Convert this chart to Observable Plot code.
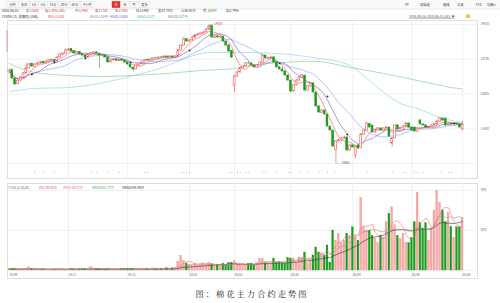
<!DOCTYPE html>
<html><head><meta charset="utf-8">
<script src="https://cdn.jsdelivr.net/npm/d3@7"></script>
<script src="https://cdn.jsdelivr.net/npm/@observablehq/plot@0.6"></script>
<style>
html,body{margin:0;padding:0;background:#fff;width:500px;height:303px;overflow:hidden;}
#wrap{position:relative;width:500px;height:303px;font-family:"Noto Sans CJK SC","Noto Sans",sans-serif;}
#price{position:absolute;left:0;top:20px;}
#vol{position:absolute;left:0;top:180px;}
#over{position:absolute;left:0;top:0;pointer-events:none;}
</style></head><body><div id="wrap"><div id="price"></div><div id="vol"></div></div>
<script>
// ---- data (daily candles, 2019/09/26 - 2020/06/01, 162 sessions) ----
const opens = [13300,13380,13100,12930,13040,13130,13270,13430,13580,13490,
13560,13590,13640,13600,13650,13680,13700,13660,13790,13880,
13910,14010,14060,13990,13910,13960,13890,13850,13790,13880,
13910,13950,13910,13840,13860,13790,13630,13690,13730,13690,
13720,13690,13630,13560,13460,13400,13530,13590,13620,13700,
13690,13720,13760,13750,13790,13780,13820,13790,13820,13780,
13820,14010,14170,14380,14300,14340,14430,14500,14530,14560,
14600,14690,14800,14430,14470,14430,14460,14300,14180,14000,
12880,13170,13300,13430,13500,13600,13590,13530,13460,13530,
13620,13850,13740,13760,13790,13630,13470,13400,13340,13200,13040,
12690,12880,13040,13140,13200,12720,12850,12950,12650,12200,
12000,12070,11940,11550,11420,10800,11070,11100,11160,11200,
10780,10940,10600,10940,10850,11290,11420,11640,11585,11360,
11420,11490,11420,11490,11520,11000,11170,11590,11460,
11500,11550,11650,11520,11520,11390,11750,11620,11590,11520,11530,11590,
11620,11710,11810,11810,11590,11650,11620,11650,11620,11460];
const highs = [13420,13400,13120,13080,13170,13300,13600,13600,13610,13590,
13630,13660,13670,13690,13720,13740,13730,13810,13910,13950,
14060,14090,14080,14010,13980,13980,13910,13870,13900,13940,
13980,13970,13930,13890,13880,13800,13720,13750,13750,13740,
13740,13700,13640,13570,13480,13550,13610,13650,13710,13720,
13750,13780,13790,13810,13820,13840,13840,13840,13840,13850,
14040,14200,14460,14400,14370,14460,14530,14560,14590,14630,
14720,14855,14830,14500,14510,14500,14480,14320,14200,14010,
13220,13340,13460,13530,13620,13640,13610,13550,13560,13650,
13900,13870,13790,13820,13800,13640,13490,13480,13350,13220,13050,
12920,13080,13170,13240,13210,12880,12980,12960,12660,12230,
12110,12090,11950,11570,11430,11100,11150,11200,11240,11210,
10970,10970,10940,10960,11320,11460,11690,11660,11600,11450,
11520,11510,11510,11550,11540,11190,11610,11610,11530,
11580,11680,11670,11540,11530,11520,11770,11640,11610,11560,11610,11650,
11740,11850,11830,11830,11680,11670,11680,11670,11640,11720];
const lows = [13260,13080,12880,12900,13010,13110,13250,13410,13470,13470,
13530,13570,13570,13580,13620,13660,13630,13640,13770,13860,
13890,13990,13960,13890,13890,13860,13830,13760,13770,13860,
13890,13890,13430,13820,13770,13600,13610,13670,13670,13670,
13670,13600,13540,13440,13330,13380,13510,13570,13600,13670,
13670,13700,13730,13730,13760,13760,13770,13770,13770,13760,
13800,13990,14150,14280,14270,14320,14410,14480,14510,14540,
14580,14670,14420,14400,14410,14410,14280,14150,13960,13760,
12655,13140,13280,13410,13480,13560,13500,13440,13440,13510,
13600,13730,13720,13740,13600,13440,13380,13310,13180,13020,12640,
12660,12860,13020,13100,12655,12700,12820,12630,12180,11980,
11970,11920,11520,11390,10870,10365,11040,11070,11130,10740,
10750,10850,10500,10820,10830,11270,11400,11500,11340,11340,
11400,11400,11400,11470,11200,10875,11150,11430,11440,
11440,11530,11500,11400,11370,11370,11600,11560,11500,11490,11510,11570,
11600,11690,11720,11560,11570,11590,11600,11590,11500,11400];
const closes = [13365,13105,12915,13040,13140,13270,13430,13560,13495,13560,
13595,13625,13595,13655,13690,13705,13655,13785,13885,13915,
14015,14045,13980,13915,13950,13885,13850,13785,13885,13915,
13950,13915,13850,13860,13785,13625,13690,13720,13690,13720,
13690,13625,13560,13465,13400,13530,13595,13625,13690,13690,
13720,13755,13755,13785,13785,13820,13785,13820,13785,13820,
14015,14175,14370,14305,14335,14435,14500,14530,14565,14595,
14695,14790,14435,14465,14435,14465,14305,14175,13980,13785,
13170,13300,13430,13495,13595,13595,13530,13465,13530,13625,
13850,13755,13755,13785,13625,13465,13400,13335,13205,13040,12685,
12880,13040,13140,13205,12720,12850,12945,12655,12200,12005,
12070,11940,11555,11425,10905,11070,11100,11165,11195,10775,
10940,10875,10905,10840,11295,11425,11650,11520,11360,11425,
11490,11425,11490,11520,11230,11165,11585,11455,11500,
11555,11650,11520,11425,11390,11490,11620,11585,11520,11530,11585,11620,
11715,11810,11745,11585,11650,11620,11650,11620,11520,11605];
// volume, unit: 万手
const volumes = [1.2,1.5,1.8,1.0,0.9,1.1,1.6,3.0,1.4,1.1,
1.0,0.9,1.1,1.0,0.8,0.9,1.0,1.2,1.3,1.1,
1.0,0.9,1.2,1.4,1.1,1.3,1.5,1.2,1.8,3.2,
2.0,1.2,1.5,1.1,1.0,1.3,1.2,1.0,0.9,1.1,
1.6,1.2,1.4,1.7,1.5,1.2,1.0,1.1,1.2,1.4,
1.3,2.0,1.5,1.4,1.6,1.8,2.2,1.9,2.1,2.5,
8.5,14.0,9.0,6.5,5.0,4.5,6.0,4.0,5.5,6.5,
5.0,7.5,6.0,4.5,5.5,4.0,6.5,5.0,7.0,7.5,
9.0,6.0,5.5,4.5,5.0,6.5,6.6,4.8,7.0,11.4,
11.0,7.0,7.0,6.0,11.4,7.6,8.0,6.6,6.6,12.0,11.4,
11.4,7.6,12.4,12.4,17.1,7.6,9.5,14.3,21.9,17.1,
16.2,14.3,23.8,7.6,38.0,28.5,35.0,25.7,28.5,35.0,
33.0,41.0,33.0,28.5,69.0,41.0,38.0,38.0,33.0,30.0,
26.0,33.0,31.0,46.0,54.0,60.0,43.0,33.0,30.0,
35.0,26.0,26.0,31.0,46.0,74.0,45.0,40.0,45.0,28.5,40.0,57.0,
76.0,64.0,57.0,46.0,55.0,41.0,31.0,41.0,41.0,50.0];
// longer moving averages (session index, value)
const ma60Idx = [0,9,21,32,44,53,61,68,78,86,95,103,110,115,121,127,133,139,145,151,157,161];
const ma60Val = [12685,12785,12815,12945,13200,13420,13700,13915,13950,13950,13915,13850,13755,13690,13530,13105,12655,12300,12135,11910,11750,11677];
const ma120Idx = [0,4,9,21,32,44,56,68,80,86,97,110,121,133,145,157,161];
const ma120Val = [13595,13430,13300,13205,13170,13205,13270,13365,13430,13530,13625,13655,13465,13270,13040,12815,12774];
// small black markers and orange signal dots
const markIdx = [8,16,27,43,64,96,113,120,158];
const markVal = [13240,13625,13755,13625,14015,13595,12525,11295,11650];
const signalIdx = [9,12,16,29,31,35,39,48,49,61,62,63,64,78,79,81,82,84,85,90,91,95,99,100,103,106,110,113,116,127,136,140,141,144,145,147,153,156,157];
// axes
const monthTickIdx = [0,21,42,64,80,100,122,143,161];
const monthTickLabels = ["19/09","19/11","19/12","20/01","20/02","20/03","20/04","20/05","20/06"];
const priceTicks = [14855,13730,12605,11480];
const priceGrid = [14855,13730,12605,11480,10355];
const volTicks = [76,38];
const volGrid = [76,38,0];

// ---- build ----
const N = closes.length;
const candles = d3.range(N).map(i => ({i, o: opens[i], h: highs[i], l: lows[i], c: closes[i], v: volumes[i], up: closes[i] >= opens[i]}));
const RED = "#ec3a3a", GREEN = "#1c9a1c", PINK = "#f7aaa8";
const FONT = '"Noto Sans CJK SC","Noto Sans",sans-serif';
const xOpt = {type: "linear", domain: [-0.5, N - 0.5], range: [7.5, 463.5], axis: null};
const hw = 0.33;
const line = (idx, val) => idx.map((i, j) => ({i, v: val[j]}));
const hiI = d3.maxIndex(highs), loI = d3.minIndex(lows);

const price = Plot.plot({
  width: 500, height: 160,
  marginLeft: 7, marginRight: 23, marginTop: 0, marginBottom: 2,
  x: xOpt,
  y: {domain: [10355, 14855], range: [143, 4], axis: null},
  color: {type: "identity"},
  style: {fontFamily: FONT, background: "transparent", overflow: "visible"},
  marks: [
    Plot.frame({stroke: "#d6d6d6", strokeWidth: 0.8}),
    Plot.ruleY(priceGrid, {stroke: "#ebebeb", strokeWidth: 0.7}),
    Plot.ruleX(monthTickIdx.slice(1), {stroke: "#ebebeb", strokeWidth: 0.7}),
    Plot.line(line(ma120Idx, ma120Val), {x: "i", y: "v", curve: "catmull-rom", stroke: "#8ccf8e", strokeWidth: 0.7}),
    Plot.line(line(ma60Idx, ma60Val), {x: "i", y: "v", curve: "catmull-rom", stroke: "#8fd6ea", strokeWidth: 0.7}),
    Plot.lineY(candles, Plot.windowY({k: 20, anchor: "end", reduce: "mean"}, {x: "i", y: "c", stroke: "#98abef", strokeWidth: 0.7})),
    Plot.lineY(candles, Plot.windowY({k: 10, anchor: "end", reduce: "mean"}, {x: "i", y: "c", stroke: "#7a6fd6", strokeWidth: 0.7})),
    Plot.lineY(candles, Plot.windowY({k: 5, anchor: "end", reduce: "mean"}, {x: "i", y: "c", stroke: "#f06a6a", strokeWidth: 0.7})),
    Plot.ruleX(candles, {x: "i", y1: "l", y2: "h", stroke: d => d.up ? RED : GREEN, strokeWidth: 0.55}),
    Plot.rect(candles, {x1: d => d.i - hw, x2: d => d.i + hw, y1: "o", y2: "c",
      fill: d => d.up ? "#ffffff" : GREEN, stroke: d => d.up ? RED : GREEN, strokeWidth: 0.5}),
    Plot.dot(line(markIdx, markVal), {x: "i", y: "v", r: 0.9, fill: "#222", stroke: "none", symbol: "square"}),
    Plot.dot(signalIdx, {x: d => d, frameAnchor: "bottom", dy: -6, r: 0.55, fill: "#eba04a", stroke: "none"}),
    Plot.ruleY([hiI], {x1: d => d + 0.3, x2: d => d + 1.4, y: d => highs[d], stroke: "#999", strokeWidth: 0.4}),
    Plot.text([hiI], {x: d => d + 1.4, y: d => highs[d], text: d => String(highs[d]), textAnchor: "start", dx: 0.8, fontSize: 3, fill: "#d23b3b"}),
    Plot.ruleY([loI], {x1: d => d, x2: d => d + 1.6, y: d => lows[d], stroke: "#8899aa", strokeWidth: 0.4}),
    Plot.text([loI], {x: d => d + 1.6, y: d => lows[d], text: d => String(lows[d]), textAnchor: "start", dx: 0.8, fontSize: 3, fill: "#445566"}),
    Plot.text(priceTicks, {y: d => d, text: d => String(d), frameAnchor: "right", dx: 3, textAnchor: "start", fontSize: 3, fill: "#666"})
  ]
});
document.getElementById("price").appendChild(price);

const vol = Plot.plot({
  width: 500, height: 100,
  marginLeft: 7, marginRight: 23, marginTop: 3, marginBottom: 2,
  x: xOpt,
  y: {domain: [0, 76], range: [90, 10], axis: null},
  color: {type: "identity"},
  style: {fontFamily: FONT, background: "transparent", overflow: "visible"},
  marks: [
    Plot.frame({stroke: "#d6d6d6", strokeWidth: 0.8}),
    Plot.ruleY(volGrid, {stroke: "#ebebeb", strokeWidth: 0.7}),
    Plot.ruleX(monthTickIdx.slice(1), {stroke: "#ebebeb", strokeWidth: 0.7}),
    Plot.rect(candles, {x1: d => d.i - hw, x2: d => d.i + hw, y1: 0, y2: "v",
      fill: d => d.up ? PINK : GREEN, stroke: d => d.up ? "#f08a8a" : GREEN, strokeWidth: 0.3}),
    Plot.lineY(candles, Plot.windowY({k: 20, anchor: "end", reduce: "mean"}, {x: "i", y: "v", stroke: "#333", strokeWidth: 0.6})),
    Plot.lineY(candles, Plot.windowY({k: 10, anchor: "end", reduce: "mean"}, {x: "i", y: "v", stroke: "#9a9a7a", strokeWidth: 0.6})),
    Plot.lineY(candles, Plot.windowY({k: 5, anchor: "end", reduce: "mean"}, {x: "i", y: "v", stroke: "#ea6f7c", strokeWidth: 0.6})),
    Plot.text(volTicks, {y: d => d, text: d => d + "万", frameAnchor: "right", dx: 3, textAnchor: "start", fontSize: 3, fill: "#666"}),
    Plot.text(monthTickIdx, {x: d => d, text: (d, i) => monthTickLabels[i], frameAnchor: "bottom", dy: -3, textAnchor: "start", fontSize: 3, fill: "#666"})
  ]
});
document.getElementById("vol").appendChild(vol);

// ---- header / caption texts ----
const svg = d3.select("#wrap").append("svg").attr("id", "over").attr("width", 500).attr("height", 303)
  .style("font-family", FONT);
const buttons = [["分时",7,11],["多日",19,10],["1分",30,8],["5分",39,8],["15分",48,10],["30分",59,10],["60分",70,10],["4小时",81,13],["日",112,8],["周",121,8],["月",130,8],["更多",139,11]];
svg.append("rect").attr("x", 0).attr("y", 0).attr("width", 500).attr("height", 9).attr("fill", "#fafafa");
svg.append("line").attr("x1", 0).attr("x2", 500).attr("y1", 9).attr("y2", 9).attr("stroke", "#ddd").attr("stroke-width", 0.6);
buttons.forEach(([t, x, w]) => {
  const on = t === "日";
  svg.append("rect").attr("x", x).attr("y", 1.3).attr("width", w).attr("height", 6.4)
    .attr("fill", on ? "#e0302a" : "#fff").attr("stroke", on ? "#e0302a" : "#cfcfcf").attr("stroke-width", 0.4);
  svg.append("text").attr("x", x + w / 2).attr("y", 5.6).attr("text-anchor", "middle")
    .attr("font-size", 3.3).attr("fill", on ? "#fff" : "#333").text(t);
});
[["F9",405],["加自选",420],["画线",443],["工具",457],["F10",476],["功能▾",487]].forEach(([t, x]) => {
  svg.append("text").attr("x", x).attr("y", 5.6).attr("font-size", 3.3).attr("fill", "#333").text(t);
});
function row(y, items) {
  items.forEach(([t, x, c]) => svg.append("text").attr("x", x).attr("y", y).attr("font-size", 3.2).attr("fill", c).text(t));
}
const G = "#555", R = "#e33a3a";
row(12.2, [["2020/06/01",2,"#333"],["收",26,G],["11605",29.6,R],["幅",45,G],["1.40%(160)",48.6,R],["开",75,G],["11460",78.6,R],
  ["高",95,G],["11720",98.6,R],["低",115,G],["11400",118.6,R],["结",136,G],["11440",139.6,"#333"],["量",158,G],["37.70万",161.6,"#333"],
  ["仓",181,G],["60.92万",184.6,"#333"],["增",203,G],["-32644",206.6,"#1c9a1c"],["振",226,G],["2.79%",229.6,"#333"]]);
row(17.6, [["CF009(CZ) [前复权](日线)",2,"#333"],["MA5:11580",48,"#e84848"],["MA10:11649",90,"#8a86c0"],["MA20:11605",110,"#4f5fdc"],
  ["MA60:11677",137,"#3cb8dc"],["MA120:12774",168,"#3fa54a"]]);
svg.append("text").attr("x", 409).attr("y", 17.6).attr("font-size", 3.2).attr("fill", "#555")
  .attr("text-decoration", "underline").text("2019/09/26-2020/06/01(162) ▼");
svg.append("rect").attr("x", 466).attr("y", 14.4).attr("width", 4).attr("height", 3.6).attr("fill", "#f3c24a");
row(189.4, [["T VOL(5,10,20)",8,"#666"],["VOL:50.82万",39,"#e84848"],["VMA5:36.07万",63,"#ea6f7c"],["VMA10:41.77万",92,"#3fa54a"],["VMA20:45.40万",122,"#222"]]);
svg.append("line").attr("x1", 7).attr("x2", 7).attr("y1", 30).attr("y2", 52).attr("stroke", "#ee8a8a").attr("stroke-width", 0.9);
svg.append("text").attr("x", 252).attr("y", 296.5).attr("text-anchor", "middle").attr("font-size", 8.2)
  .attr("letter-spacing", 2.1).attr("fill", "#222")
  .style("font-family", '"Noto Serif CJK SC","Noto Sans CJK SC",serif').text("图：棉花主力合约走势图");
</script></body></html>
